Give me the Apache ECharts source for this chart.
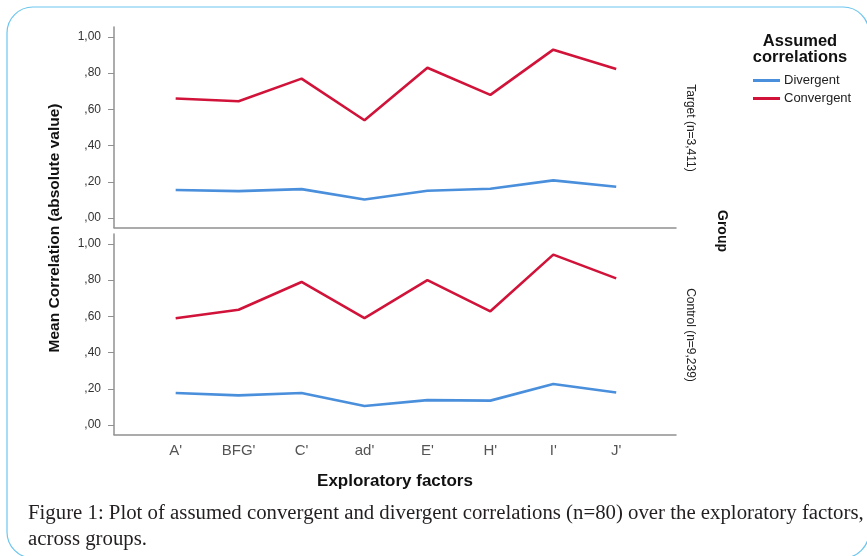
<!DOCTYPE html>
<html>
<head>
<meta charset="utf-8">
<script src="https://cdn.jsdelivr.net/npm/echarts@6/dist/echarts.min.js"></script>
<style>
  html, body { margin: 0; padding: 0; background: #fff; }
  #chart { width: 867px; height: 556px; }
</style>
</head>
<body>
<div id="chart"></div>
<script>
// factors on the x axis
const factors = ["A'", "BFG'", "C'", "ad'", "E'", "H'", "I'", "J'"]
// Target group (n=3,411)
const targetDivergent = [0.155, 0.149, 0.160, 0.103, 0.151, 0.162, 0.208, 0.173]
const targetConvergent = [0.660, 0.645, 0.770, 0.540, 0.830, 0.680, 0.930, 0.823]
// Control group (n=9,239)
const controlDivergent = [0.177, 0.164, 0.177, 0.105, 0.138, 0.135, 0.227, 0.180]
const controlConvergent = [0.590, 0.637, 0.790, 0.590, 0.800, 0.628, 0.941, 0.810]
const yTicks = [0, 0.2, 0.4, 0.6, 0.8, 1.0]

const BLUE = '#4a8fdc'
const RED = '#d1133a'
const AXIS = '#909090'
const SANS = 'Liberation Sans, Arial, sans-serif'

const chart = echarts.init(document.getElementById('chart'))

// index -> [x, y] pairs so x can sit on a value axis with SPSS-like padding
const toPairs = arr => arr.map((v, i) => [i, v])
const fmtY = v => v === 1 ? '1,00' : v.toFixed(2).replace('0.', ',')

function makeX(gridIndex, withLabels) {
  return {
    type: 'value', gridIndex: gridIndex, min: -0.98, max: 7.95,
    axisLine: { show: true, onZero: false, lineStyle: { color: AXIS, width: 1.5 } },
    axisTick: { show: false },
    splitLine: { show: false },
    axisLabel: withLabels ? {
      customValues: factors.map((f, i) => i),
      formatter: v => factors[Math.round(v)],
      color: '#555', fontSize: 15, fontFamily: SANS, margin: 9
    } : { show: false },
    name: withLabels ? 'Exploratory factors' : '',
    nameLocation: 'middle', nameGap: 38,
    nameTextStyle: { color: '#111', fontSize: 17, fontWeight: 'bold', fontFamily: SANS }
  }
}
function makeY(gridIndex) {
  return {
    type: 'value', gridIndex: gridIndex, min: -0.052, max: 1.055,
    axisLine: { show: true, onZero: false, lineStyle: { color: AXIS, width: 1.5 } },
    axisTick: { show: true, customValues: yTicks, length: 6, lineStyle: { color: AXIS } },
    splitLine: { show: false },
    axisLabel: { customValues: yTicks, formatter: fmtY, color: '#333', fontSize: 12, fontFamily: SANS, margin: 13 }
  }
}
function line(name, data, idx, color) {
  return {
    name: name, type: 'line', xAxisIndex: idx, yAxisIndex: idx,
    data: toPairs(data), symbol: 'none', silent: true,
    lineStyle: { color: color, width: 2.6 }, itemStyle: { color: color }
  }
}

const option = {
  animation: false,
  backgroundColor: '#fff',
  grid: [
    { left: 114, top: 27, width: 562, height: 200.5 },
    { left: 114, top: 234, width: 562, height: 200.5 }
  ],
  xAxis: [makeX(0, false), makeX(1, true)],
  yAxis: [makeY(0), makeY(1)],
  legend: {
    orient: 'vertical', left: 748, top: 69, itemGap: 5,
    icon: 'rect', itemWidth: 27, itemHeight: 3,
    data: ['Divergent', 'Convergent'],
    textStyle: { color: '#222', fontSize: 13, fontFamily: SANS, padding: [0, 0, 0, -1] }
  },
  series: [
    line('Divergent', targetDivergent, 0, BLUE),
    line('Convergent', targetConvergent, 0, RED),
    line('Divergent', controlDivergent, 1, BLUE),
    line('Convergent', controlConvergent, 1, RED)
  ],
  graphic: [
    { type: 'rect', shape: { x: 7, y: 7, width: 862, height: 551, r: 26 },
      style: { fill: 'none', stroke: '#6cc6ee', lineWidth: 1.2 }, silent: true },
    { type: 'text', x: 55, y: 228, rotation: Math.PI / 2,
      style: { text: 'Mean Correlation (absolute value)', fill: '#111', font: 'bold 15.5px ' + SANS,
        textAlign: 'center', textVerticalAlign: 'middle' } },
    { type: 'text', x: 690, y: 128, rotation: -Math.PI / 2,
      style: { text: 'Target (n=3,411)', fill: '#222', font: '12px ' + SANS,
        textAlign: 'center', textVerticalAlign: 'middle' } },
    { type: 'text', x: 690, y: 335, rotation: -Math.PI / 2,
      style: { text: 'Control (n=9,239)', fill: '#222', font: '12px ' + SANS,
        textAlign: 'center', textVerticalAlign: 'middle' } },
    { type: 'text', x: 722, y: 231, rotation: -Math.PI / 2,
      style: { text: 'Group', fill: '#111', font: 'bold 14px ' + SANS,
        textAlign: 'center', textVerticalAlign: 'middle' } },
    { type: 'text', x: 800, y: 41,
      style: { text: 'Assumed', fill: '#111', font: 'bold 16.5px ' + SANS,
        textAlign: 'center', textVerticalAlign: 'middle' } },
    { type: 'text', x: 800, y: 57,
      style: { text: 'correlations', fill: '#111', font: 'bold 16.5px ' + SANS,
        textAlign: 'center', textVerticalAlign: 'middle' } },
    { type: 'text', x: 28, y: 514,
      style: { text: 'Figure 1: Plot of assumed convergent and divergent correlations (n=80) over the exploratory factors,',
        fill: '#231f20', font: '20.8px Liberation Serif, serif', textVerticalAlign: 'middle' } },
    { type: 'text', x: 28, y: 540,
      style: { text: 'across groups.', fill: '#231f20', font: '20.8px Liberation Serif, serif', textVerticalAlign: 'middle' } }
  ]
}
chart.setOption(option)
</script>
</body>
</html>
